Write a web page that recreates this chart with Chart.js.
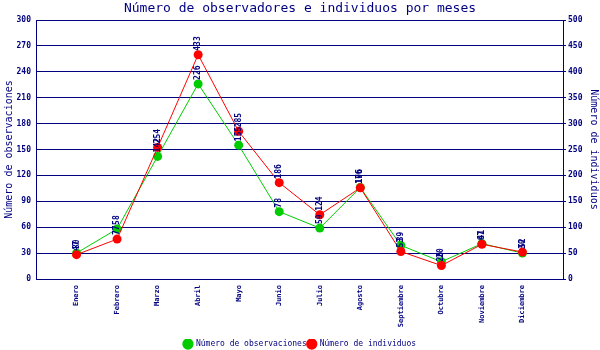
<!DOCTYPE html>
<html>
<head>
<meta charset="utf-8">
<script src="https://cdn.jsdelivr.net/npm/chart.js@4"></script>
<style>
  body { margin:0; background:#fff; }
  #box { width:600px; height:350px; }
</style>
</head>
<body>
<div id="box"><canvas id="mesesChart" width="600" height="350"></canvas></div>
<script>
var meses = ['Enero','Febrero','Marzo','Abril','Mayo','Junio','Julio','Agosto','Septiembre','Octubre','Noviembre','Diciembre']
var observaciones = [30, 58, 142, 226, 155, 78, 59, 106, 39, 20, 41, 30]
var individuos = [47, 77, 254, 433, 285, 186, 124, 176, 53, 26, 67, 52]
var ticksObs = [0, 30, 60, 90, 120, 150, 180, 210, 240, 270, 300]
var ticksInd = [0, 50, 100, 150, 200, 250, 300, 350, 400, 450, 500]

var navy = '#000080'
var mono = 'DejaVu Sans Mono'

// one empty slot each side so the months sit like the original
var labels = [''].concat(meses).concat([''])
function pad(arr){ return [null].concat(arr).concat([null]) }

var tituloPlugin = {
    id:'titulo',
    afterDraw:function(chart){
        var ctx = chart.ctx
        ctx.save()
        ctx.fillStyle = navy
        ctx.font = '13px "' + mono + '"'
        ctx.textAlign = 'center'
        ctx.textBaseline = 'middle'
        ctx.fillText('Número de observadores e individuos por meses', 300, 9)
        ctx.restore()
    }
}

var valoresPlugin = {
    id:'valores',
    afterDatasetsDraw:function(chart){
        var ctx = chart.ctx
        ctx.save()
        ctx.fillStyle = navy
        ctx.font = 'bold 8px "' + mono + '"'
        ctx.textAlign = 'left'
        ctx.textBaseline = 'middle'
        chart.data.datasets.forEach(function(ds, i){
            var meta = chart.getDatasetMeta(i)
            meta.data.forEach(function(pt, j){
                if(ds.data[j] == null) return
                ctx.save()
                ctx.translate(pt.x, pt.y - 4)
                ctx.rotate(-Math.PI/2)
                ctx.fillText(String(ds.data[j]), 0, 0)
                ctx.restore()
            })
        })
        ctx.restore()
    }
}

var mesesChart = new Chart(document.getElementById('mesesChart'), {
    type:'line',
    data:{
        labels:labels,
        datasets:[{
            label:'Número de observaciones',
            data:pad(observaciones),
            yAxisID:'yObs',
            borderColor:'rgb(0,204,0)',
            backgroundColor:'rgb(0,204,0)',
            borderWidth:1,
            pointRadius:4.5,
            pointBorderWidth:0,
            order:1
        },{
            label:'Número de individuos',
            data:pad(individuos),
            yAxisID:'yInd',
            borderColor:'rgb(255,0,0)',
            backgroundColor:'rgb(255,0,0)',
            borderWidth:1,
            pointRadius:4.5,
            pointBorderWidth:0,
            order:0
        }]
    },
    options:{
        responsive:false,
        animation:false,
        layout:{ padding:{ top:20, left:0, right:0, bottom:0 } },
        plugins:{
            title:{ display:false },
            tooltip:{ enabled:false },
            legend:{
                position:'bottom',
                maxHeight:11,
                labels:{
                    color:navy,
                    font:{ family:mono, size:8 },
                    usePointStyle:true,
                    pointStyle:'circle',
                    boxWidth:8,
                    boxHeight:8,
                    padding:1,
                    sort:function(a, b){ return a.datasetIndex - b.datasetIndex }
                }
            }
        },
        scales:{
            x:{
                type:'category',
                offset:false,
                grid:{ display:false, drawTicks:false },
                border:{ display:true, color:navy },
                ticks:{
                    color:navy,
                    font:{ family:mono, size:7, weight:'bold' },
                    autoSkip:false,
                    maxRotation:90,
                    minRotation:90,
                    padding:6
                },
                afterFit:function(scale){
                    var lh = scale.chart.legend ? scale.chart.legend.height : 11
                    scale.height = 350 - 279 - lh
                }
            },
            yObs:{
                position:'left',
                min:0, max:300,
                afterBuildTicks:function(scale){ scale.ticks = ticksObs.map(function(v){ return { value:v } }) },
                grid:{ color:navy, drawTicks:false },
                border:{ color:navy },
                ticks:{ color:navy, font:{ family:mono, size:8, weight:'bold' }, padding:5 },
                title:{ display:true, text:'Número de observaciones', color:navy, font:{ family:mono, size:10 }, padding:{ top:3, bottom:0 } },
                afterFit:function(scale){ scale.width = 36 }
            },
            yInd:{
                position:'right',
                min:0, max:500,
                afterBuildTicks:function(scale){ scale.ticks = ticksInd.map(function(v){ return { value:v } }) },
                grid:{ drawOnChartArea:false, color:navy, tickLength:3 },
                border:{ color:navy },
                ticks:{ color:navy, font:{ family:mono, size:8, weight:'bold' }, padding:2 },
                title:{ display:true, text:'Número de individuos', color:navy, font:{ family:mono, size:10 }, padding:{ top:0, bottom:0 } },
                afterFit:function(scale){ scale.width = 37 }
            }
        }
    },
    plugins:[tituloPlugin, valoresPlugin]
})
</script>
</body>
</html>
